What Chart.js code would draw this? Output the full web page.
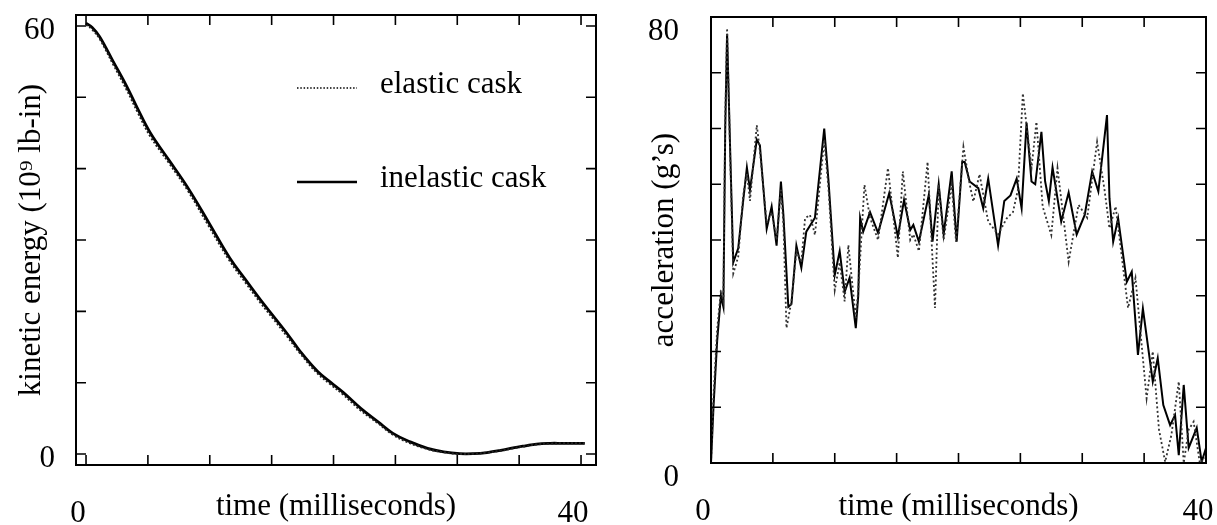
<!DOCTYPE html>
<html>
<head>
<meta charset="utf-8">
<script src="https://cdn.jsdelivr.net/npm/chart.js@4.4.1/dist/chart.umd.min.js"></script>
<style>
html, body { margin: 0; padding: 0; background: #fff; }
#wrap { position: relative; width: 1217px; height: 525px; }
#leftBox { position: absolute; left: 0; top: 0; width: 640px; height: 525px; }
#rightBox { position: absolute; left: 640px; top: 0; width: 577px; height: 525px; }
</style>
</head>
<body>
<div id="wrap">
  <div id="leftBox"><canvas id="energyChart"></canvas></div>
  <div id="rightBox"><canvas id="accelChart"></canvas></div>
</div>
<script>
// left panel: kinetic energy vs time
const energyTimes = [0, 0.5, 1.1, 2.2, 3.3, 4.2, 5.2, 6.7, 8.2, 9.9,
    11.6, 12.9, 14.1, 15.2, 16.2, 17.3, 18.7, 19.8, 20.8, 22.2,
    23.6, 24.8, 26.2, 27.6, 28.9, 30.2, 31.3, 32.4, 33.5, 34.5,
    35.5, 36.4, 37.5, 38.5, 40.3];
const energyInelastic = [60.4, 59.8, 58.5, 55.0, 51.5, 48.3, 45.0, 41.2, 37.4, 32.5,
    27.5, 24.4, 21.6, 19.2, 17.0, 14.4, 11.6, 10.0, 8.6, 6.4,
    4.5, 2.9, 1.7, 0.8, 0.3, 0.05, 0.05, 0.2, 0.5, 0.85,
    1.15, 1.4, 1.5, 1.5, 1.5];
const energyElastic = [60.2, 59.5, 58.2, 54.6, 51.0, 47.8, 44.5, 40.8, 37.0, 32.0,
    27.1, 24.0, 21.2, 18.8, 16.6, 14.1, 11.3, 9.7, 8.3, 6.1,
    4.3, 2.7, 1.5, 0.7, 0.25, 0.0, 0.05, 0.2, 0.45, 0.8,
    1.1, 1.35, 1.45, 1.5, 1.5];

// right panel: acceleration vs time
const accTimesInelastic = [0, 0.2, 0.5, 0.8, 1.0, 1.15, 1.3, 1.55, 1.8, 2.2,
    2.6, 2.9, 3.15, 3.7, 3.95, 4.5, 4.9, 5.3, 5.65, 5.85,
    6.25, 6.5, 6.9, 7.3, 7.7, 8.4, 9.15, 9.5, 10.0, 10.4,
    10.8, 11.2, 11.7, 11.9, 12.05, 12.3, 12.85, 13.5, 14.4, 15.1,
    15.6, 16.1, 16.35, 16.8, 17.6, 17.9, 18.4, 18.8, 19.45, 19.85,
    20.3, 20.5, 20.9, 21.6, 22.0, 22.4, 23.2, 23.7, 24.2, 24.7,
    25.1, 25.5, 25.9, 26.2, 26.7, 27.0, 27.3, 27.6, 28.3, 28.9,
    29.55, 30.2, 30.8, 31.3, 32.0, 32.2, 32.5, 32.9, 33.6, 34.0,
    34.5, 34.9, 35.7, 36.1, 36.55, 37.1, 37.5, 37.8, 38.2, 38.6,
    39.25, 39.65, 40];
const accInelastic = [0, 10, 22, 30, 28, 60, 77, 56, 36, 38.5,
    47, 53, 49, 58, 57, 42, 46, 39, 50.5, 44.5,
    28, 28.5, 39, 35, 41.5, 44, 60, 50.5, 33.7, 38,
    30.7, 33.2, 24.2, 30, 44, 41.5, 45, 41.3, 48.4, 40.6,
    47.2, 41.8, 42.7, 39.7, 48.1, 39.7, 50, 41, 52.3, 39.7,
    54, 54, 50.5, 49.3, 45.7, 51, 39, 47, 48, 51,
    45.7, 61, 50.5, 50, 59.4, 50.5, 47, 53, 43.3, 48.5,
    41, 44.5, 52.3, 48.7, 62.4, 47.5, 39.7, 43.9, 32.5, 34.3,
    19.4, 27.7, 14.6, 18.8, 10.4, 6.8, 8.6, 1.4, 14, 2.7,
    6.3, 0.2, 2.7];
const accTimesElastic = [0, 0.2, 0.5, 0.8, 1.0, 1.15, 1.3, 1.55, 1.8, 2.2,
    2.6, 2.9, 3.15, 3.7, 3.95, 4.5, 4.9, 5.3, 5.65, 5.85,
    6.1, 6.5, 6.9, 7.3, 7.6, 8.0, 8.4, 9.15, 9.5, 10.0,
    10.4, 10.8, 11.1, 11.7, 11.9, 12.4, 12.85, 13.5, 14.3, 15.1,
    15.5, 16.1, 16.35, 16.8, 17.5, 18.1, 18.4, 18.8, 19.45, 19.8,
    20.4, 20.9, 21.2, 21.7, 22.4, 23.2, 23.9, 24.4, 24.8, 25.2,
    25.9, 26.3, 26.8, 27.5, 28.0, 28.9, 29.7, 30.4, 31.2, 31.8,
    32.2, 32.7, 33.7, 34.3, 35.2, 35.7, 36.2, 36.7, 37.2, 37.8,
    38.2, 38.6, 39.0, 39.5, 40];
const accElastic = [0, 12, 24, 31, 29, 62, 78, 55, 34, 37,
    48, 52, 47, 60.6, 56, 43, 45, 40, 49, 43,
    24.2, 29, 38, 36, 43.9, 44.5, 40.9, 58, 49, 31,
    36, 29, 39.1, 26, 31, 49.9, 44, 40, 52.9, 36.8,
    52.3, 40, 41, 38, 54, 27.8, 49.9, 40, 50, 39.7,
    56.7, 50, 46.9, 51.8, 43.3, 41, 43.9, 45, 49, 66.3,
    52.9, 61.2, 46, 40.9, 52.9, 36.1, 46.3, 44, 57.6, 49,
    42.1, 46, 27.8, 33.2, 11.6, 20, 6, 0.2, 5, 14.6,
    0, 6, 7.4, 0, 1];

// tick values (only the end ones get a label)
const timeTicks = [0, 5, 10, 15, 20, 25, 30, 35, 40];
const energyTicks = [0, 10, 20, 30, 40, 50, 60];
const accTicks = [0, 10, 20, 30, 40, 50, 60, 70, 80];

const serif = '"Liberation Serif", "Times New Roman", serif';
Chart.defaults.font.family = serif;
Chart.defaults.color = '#000';

function toPoints(xs, ys) {
    return xs.map((x, i) => ({ x: x, y: ys[i] }));
}

function endLabels(value, index, ticks) {
    return (index === 0 || index === ticks.length - 1) ? String(value) : '';
}

// labels may hang over the plot edges, keep the plot box where it is
function noLabelPadding(s) {
    s.paddingTop = 0;
    s.paddingBottom = 0;
    s.paddingLeft = 0;
    s.paddingRight = 0;
}

// draws the plot box and the inward tick marks on all four sides
const frameTicks = {
    id: 'frameTicks',
    afterDraw(chart) {
        const { ctx, chartArea: a } = chart;
        const x = chart.scales.x, y = chart.scales.y;
        ctx.save();
        ctx.strokeStyle = '#000';
        ctx.lineWidth = 2;
        ctx.strokeRect(a.left, a.top, a.right - a.left, a.bottom - a.top);
        ctx.lineWidth = 1.6;
        ctx.beginPath();
        x.ticks.forEach(t => {
            const px = x.getPixelForValue(t.value);
            ctx.moveTo(px, a.bottom); ctx.lineTo(px, a.bottom - 10);
            ctx.moveTo(px, a.top); ctx.lineTo(px, a.top + 10);
        });
        y.ticks.forEach(t => {
            const py = y.getPixelForValue(t.value);
            ctx.moveTo(a.left, py); ctx.lineTo(a.left + 10, py);
            ctx.moveTo(a.right, py); ctx.lineTo(a.right - 10, py);
        });
        ctx.stroke();
        ctx.restore();
    }
};

// legend drawn inside the left plot
const insideLegend = {
    id: 'insideLegend',
    afterDraw(chart) {
        const ctx = chart.ctx;
        const rows = [88, 182];
        ctx.save();
        ctx.font = '31px ' + serif;
        ctx.fillStyle = '#000';
        ctx.textBaseline = 'middle';
        chart.data.datasets.forEach((ds, i) => {
            const ly = rows[i];
            ctx.beginPath();
            ctx.strokeStyle = '#000';
            ctx.lineWidth = ds.borderDash ? 1.5 : 2.5;
            ctx.setLineDash(ds.borderDash ? [1.5, 1.8] : []);
            ctx.moveTo(297, ly);
            ctx.lineTo(357, ly);
            ctx.stroke();
            ctx.fillText(ds.label, 380, ly - 3);
        });
        ctx.restore();
    }
};

function makeScales(opt) {
    return {
        x: {
            type: 'linear',
            min: opt.xMin,
            max: opt.xMax,
            afterBuildTicks: s => { s.ticks = timeTicks.map(v => ({ value: v })); },
            afterFit: s => { s.height = opt.xHeight; noLabelPadding(s); },
            grid: { display: false },
            border: { display: false },
            ticks: {
                autoSkip: false, maxRotation: 0, padding: 22, labelOffset: -8,
                font: { size: 31 }, color: '#000', callback: endLabels
            },
            title: {
                display: true, text: 'time (milliseconds)', color: '#000',
                font: { size: 31, lineHeight: 1.2 }, padding: { top: 0, bottom: 0 }
            }
        },
        y: {
            type: 'linear',
            min: opt.yMin,
            max: opt.yMax,
            afterBuildTicks: s => { s.ticks = opt.yTicks.map(v => ({ value: v })); },
            afterFit: s => { s.width = opt.yWidth; noLabelPadding(s); },
            grid: { display: false },
            border: { display: false },
            ticks: {
                autoSkip: false, padding: opt.yPad, labelOffset: opt.yLabelOffset,
                font: { size: 31 }, color: '#000', callback: endLabels
            },
            title: {
                display: true, text: opt.yTitle, color: '#000',
                font: { size: 31, lineHeight: 1.2 }, padding: { top: opt.yTitlePad, bottom: 0 }
            }
        }
    };
}

new Chart(document.getElementById('energyChart'), {
    type: 'line',
    data: {
        datasets: [
            {
                label: 'elastic cask',
                data: toPoints(energyTimes, energyElastic),
                borderColor: '#222',
                borderWidth: 2,
                borderDash: [2, 2],
                pointRadius: 0,
                tension: 0.4,
                fill: false
            },
            {
                label: 'inelastic cask',
                data: toPoints(energyTimes, energyInelastic),
                borderColor: '#000',
                borderWidth: 2.8,
                pointRadius: 0,
                tension: 0.4,
                fill: false
            }
        ]
    },
    options: {
        responsive: true,
        maintainAspectRatio: false,
        animation: false,
        layout: { padding: { top: 15, right: 44, bottom: 0, left: 0 } },
        plugins: { legend: { display: false }, tooltip: { enabled: false } },
        scales: makeScales({
            xMin: -0.81, xMax: 41.21, xHeight: 60,
            yMin: -1.54, yMax: 61.54, yTicks: energyTicks, yWidth: 76,
            yPad: 13, yLabelOffset: 5, yTitlePad: 13,
            yTitle: 'kinetic energy (10\u2079 lb-in)'
        })
    },
    plugins: [frameTicks, insideLegend]
});

new Chart(document.getElementById('accelChart'), {
    type: 'line',
    data: {
        datasets: [
            {
                label: 'elastic cask',
                data: toPoints(accTimesElastic, accElastic),
                borderColor: '#333',
                borderWidth: 1.8,
                borderDash: [2, 2.5],
                pointRadius: 0,
                tension: 0,
                fill: false
            },
            {
                label: 'inelastic cask',
                data: toPoints(accTimesInelastic, accInelastic),
                borderColor: '#000',
                borderWidth: 2,
                pointRadius: 0,
                tension: 0,
                fill: false
            }
        ]
    },
    options: {
        responsive: true,
        maintainAspectRatio: false,
        animation: false,
        layout: { padding: { top: 17, right: 11, bottom: 0, left: 0 } },
        plugins: { legend: { display: false }, tooltip: { enabled: false } },
        scales: makeScales({
            xMin: 0, xMax: 40, xHeight: 62,
            yMin: 0, yMax: 80, yTicks: accTicks, yWidth: 71,
            yPad: 24, yLabelOffset: 15, yTitlePad: 6,
            yTitle: 'acceleration (g\u2019s)'
        })
    },
    plugins: [frameTicks]
});
</script>
</body>
</html>
